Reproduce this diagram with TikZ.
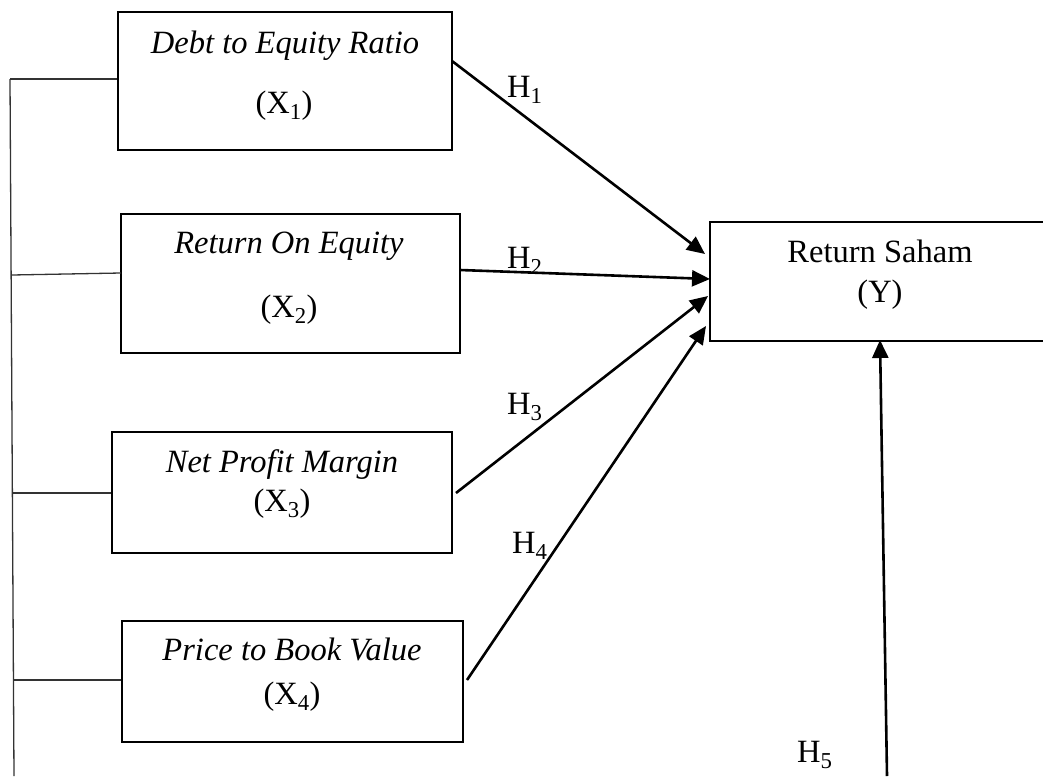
\documentclass[tikz,border=0pt]{standalone}
\usepackage{fontspec}
\setmainfont{Liberation Serif}
\usetikzlibrary{arrows.meta}
\tikzset{
  box/.style={draw, line width=2pt, inner sep=0pt},
  lbl/.style={anchor=base, inner sep=0pt, font=\fontsize{32.5}{38}\selectfont},
  arr/.style={line width=2.6pt, -{Triangle[length=18pt,width=16pt]}},
  brk/.style={line width=1.3pt, draw=black!80},
}
\begin{document}
\begin{tikzpicture}[x=1pt,y=-1pt]
\useasboundingbox (0,0) rectangle (1043,776);
\clip (0,0) rectangle (1043,776);
% boxes
\node[box, minimum width=334pt, minimum height=138pt] (b1) at (285,81) {};
\node[box, minimum width=339pt, minimum height=139pt] (b2) at (290.5,283.5) {};
\node[box, minimum width=340pt, minimum height=121pt] (b3) at (282,492.5) {};
\node[box, minimum width=341pt, minimum height=121pt] (b4) at (292.5,681.5) {};
\node[box, minimum width=340pt, minimum height=119pt] (by) at (880,281.5) {};
% texts
\node[lbl] (t1a) at (285,53) {\textit{Debt to Equity Ratio}};
\node[lbl] (t1b) at (284,113) {(X\textsubscript{1})};
\node[lbl] (t2a) at (289,253) {\textit{Return On Equity}};
\node[lbl] (t2b) at (289,317) {(X\textsubscript{2})};
\node[lbl] (t3a) at (282,472) {\textit{Net Profit Margin}};
\node[lbl] (t3b) at (282,511) {(X\textsubscript{3})};
\node[lbl] (t4a) at (292,660) {\textit{Price to Book Value}};
\node[lbl] (t4b) at (292,704) {(X\textsubscript{4})};
\node[lbl] (tya) at (880,262) {Return Saham};
\node[lbl] (tyb) at (880,302) {(Y)};
% hypothesis labels
\node[lbl, anchor=base west] (h1) at (507,97) {H\textsubscript{1}};
\node[lbl, anchor=base west] (h2) at (507,268) {H\textsubscript{2}};
\node[lbl, anchor=base west] (h3) at (507,414) {H\textsubscript{3}};
\node[lbl, anchor=base west] (h4) at (512,553) {H\textsubscript{4}};
\node[lbl, anchor=base west] (h5) at (797,762) {H\textsubscript{5}};
% connector end points
\coordinate (s1) at (452,61);
\coordinate (s2) at (460,270);
\coordinate (s3) at (456,493);
\coordinate (s4) at (467,680);
\coordinate (s5) at (887,776);
\coordinate (e1) at (705,254);
\coordinate (e2) at (710,279);
\coordinate (e3) at (708,296);
\coordinate (e4) at (706,326);
\coordinate (e5) at (880,340);
\draw[arr] (s1) -- (e1);
\draw[arr] (s2) -- (e2);
\draw[arr] (s3) -- (e3);
\draw[arr] (s4) -- (e4);
\draw[arr] (s5) -- (e5);
% bracket
\coordinate (kt) at (10,79);
\coordinate (kb) at (14,776);
\coordinate (k2) at (12,275);
\coordinate (k3) at (13,493);
\coordinate (k4) at (14,680);
\draw[brk] (kt) -- (kb);
\draw[brk] (kt) -- (kt -| b1.west);
\draw[brk] (k2) -- (121,273);
\draw[brk] (k3) -- (k3 -| b3.west);
\draw[brk] (k4) -- (k4 -| b4.west);
\end{tikzpicture}
\end{document}
